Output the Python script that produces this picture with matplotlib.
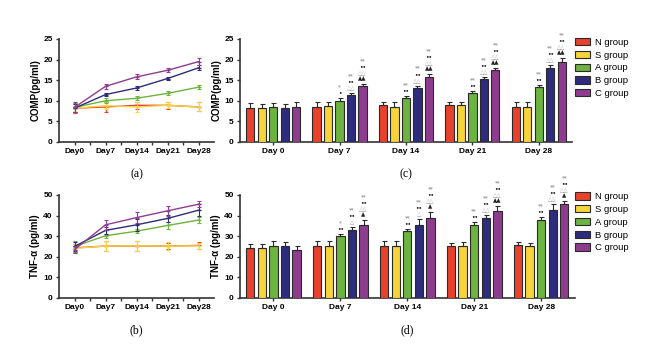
import matplotlib
matplotlib.use("Agg")
import matplotlib.pyplot as plt
import numpy as np
from matplotlib.patches import Patch

plt.rcParams['font.family'] = ['Liberation Sans', 'DejaVu Sans']

days_line = ["Day0", "Day7", "Day14", "Day21", "Day28"]
days_bar = ["Day 0", "Day 7", "Day 14", "Day 21", "Day 28"]
groups = ["N group", "S group", "A group", "B group", "C group"]
colors = ["#e8412c", "#f7d43a", "#6cb33f", "#2e2c7c", "#8e3d8e"]

# COMP (pg/ml)
comp_N = [8.2, 8.5, 8.9, 8.9, 8.5]
comp_S = [8.2, 8.8, 8.5, 8.9, 8.5]
comp_A = [8.4, 10.0, 10.6, 11.8, 13.3]
comp_B = [8.2, 11.5, 13.1, 15.4, 18.0]
comp_C = [8.4, 13.5, 15.8, 17.4, 19.5]
comp_err_N = [1.2, 1.3, 0.9, 0.8, 1.1]
comp_err_S = [1.0, 0.8, 1.3, 0.7, 1.1]
comp_err_A = [1.1, 0.6, 0.5, 0.5, 0.5]
comp_err_B = [1.0, 0.4, 0.6, 0.4, 0.6]
comp_err_C = [1.2, 0.6, 0.6, 0.5, 0.9]

# TNF-alpha (pg/ml)
tnf_N = [24.3, 25.2, 25.2, 25.2, 25.5]
tnf_S = [24.1, 25.2, 25.3, 25.2, 25.3]
tnf_A = [25.0, 30.2, 32.4, 35.2, 37.8]
tnf_B = [25.0, 32.8, 35.5, 38.6, 42.6]
tnf_C = [23.5, 35.5, 39.0, 42.3, 45.5]
tnf_err_N = [1.8, 2.5, 2.3, 1.3, 1.6]
tnf_err_S = [2.2, 2.3, 2.3, 1.8, 1.3]
tnf_err_A = [2.5, 1.0, 1.0, 1.5, 1.5]
tnf_err_B = [2.2, 1.8, 2.8, 1.6, 2.8]
tnf_err_C = [1.5, 2.3, 2.5, 2.3, 1.5]

# significance marks per group (list per day), top-down lines
comp_marks_A = [[], ["*", "•"], ["**", "••"], ["**", "••"], ["**", "••"]]
comp_marks_B = [[], ["**", "••", "△△"], ["**", "••", "△△"], ["**", "••", "△△"], ["**", "••", "△△"]]
comp_marks_C = [[], ["**", "••", "△△", "▲▲"], ["**", "••", "△△", "▲▲"], ["**", "••", "△△", "▲▲"], ["**", "••", "△△", "▲▲"]]
tnf_marks_A = [[], ["*", "••"], ["**", "••"], ["**", "••"], ["**", "••"]]
tnf_marks_B = [[], ["**", "••", "△"], ["**", "••", "△"], ["**", "••", "△△"], ["**", "••", "△△"]]
tnf_marks_C = [[], ["**", "••", "△△", "▲"], ["**", "••", "△△", "▲"], ["**", "••", "△△", "▲▲"], ["**", "••", "△△", "▲"]]

fig = plt.figure(figsize=(6.6, 3.59), dpi=100)

spine_c = "#333333"

def style_axes(ax):
    for s in ["top", "right"]:
        ax.spines[s].set_visible(False)
    for s in ["left", "bottom"]:
        ax.spines[s].set_color(spine_c)
        ax.spines[s].set_linewidth(1.2)
    ax.tick_params(axis='both', labelsize=6, width=1, length=2.5, color=spine_c, pad=2)
    for lab in ax.get_xticklabels() + ax.get_yticklabels():
        lab.set_fontweight('bold')

def line_panel(rect, series, errs, ymax, ystep, ylabel, letter):
    ax = fig.add_axes(rect)
    x = np.arange(len(days_line))
    for i in range(5):
        ax.errorbar(x, series[i], yerr=errs[i], color=colors[i], lw=1.0,
                    marker='_', ms=3, capsize=1.5, elinewidth=0.8, capthick=0.8, zorder=3 + i)
    ax.set_xlim(-0.5, 4.5)
    ax.set_ylim(0, ymax)
    ax.set_yticks(np.arange(0, ymax + 0.1, ystep))
    ax.set_xticks(x)
    ax.set_xticklabels(days_line)
    ax.set_xticks(np.arange(0.5, 4.0, 1.0), minor=True)
    ax.tick_params(axis='x', which='major', length=0)
    ax.tick_params(axis='x', which='minor', length=2.5, width=1, color=spine_c)
    ax.set_ylabel(ylabel, fontsize=7, fontweight='bold', labelpad=2)
    style_axes(ax)
    ax.text(0.5, -0.26, letter, transform=ax.transAxes, ha='center', va='top',
            fontsize=8.5, family='Liberation Serif')
    return ax

def bar_panel(rect, series, errs, marks, ymax, ystep, ylabel, letter, legend_y):
    ax = fig.add_axes(rect)
    x = np.arange(len(days_bar))
    step = 0.173
    w = 0.125
    for i in range(5):
        xi = x + (i - 2) * step
        ax.bar(xi, series[i], width=w, color=colors[i], edgecolor="#2a2a2a", linewidth=0.8, zorder=3)
        ax.errorbar(xi, series[i], yerr=[np.zeros(5), errs[i]], fmt='none', ecolor="#2a2a2a",
                    elinewidth=0.8, capsize=1.8, capthick=0.8, zorder=4)
    for gi, m in zip([2, 3, 4], marks):
        for d in range(5):
            lines = m[d]
            if not lines:
                continue
            xi = x[d] + (gi - 2) * step
            top = series[gi][d] + errs[gi][d]
            n = len(lines)
            for k, s in enumerate(lines):
                col = "#a0a0a0" if k % 2 == 0 else "#222222"
                off = 2.0 + (n - 1 - k) * 4.4
                ax.annotate(s, (xi, top), xytext=(0, off), textcoords='offset points',
                            ha='center', va='bottom', fontsize=4.0, color=col,
                            family=['DejaVu Sans'], fontweight='bold')
    ax.set_xlim(-0.5, 4.5)
    ax.set_ylim(0, ymax)
    ax.set_yticks(np.arange(0, ymax + 0.1, ystep))
    ax.set_xticks(x)
    ax.set_xticklabels(days_bar)
    ax.set_ylabel(ylabel, fontsize=7, fontweight='bold', labelpad=2)
    style_axes(ax)
    ax.text(0.5, -0.26, letter, transform=ax.transAxes, ha='center', va='top',
            fontsize=8.5, family='Liberation Serif')
    handles = [Patch(facecolor=colors[i], edgecolor="#2a2a2a", linewidth=0.8, label=groups[i]) for i in range(5)]
    fig.legend(handles=handles, loc='upper left', bbox_to_anchor=(0.865, legend_y), frameon=False,
               fontsize=6.8, handlelength=1.6, handleheight=0.8, handletextpad=0.5,
               labelspacing=0.4, borderaxespad=0)
    return ax

line_panel([0.0894, 0.6045, 0.235, 0.287],
           [comp_N, comp_S, comp_A, comp_B, comp_C],
           [comp_err_N, comp_err_S, comp_err_A, comp_err_B, comp_err_C],
           25, 5, "COMP(pg/ml)", "(a)")
line_panel([0.0894, 0.170, 0.235, 0.287],
           [tnf_N, tnf_S, tnf_A, tnf_B, tnf_C],
           [tnf_err_N, tnf_err_S, tnf_err_A, tnf_err_B, tnf_err_C],
           50, 10, "TNF-α (pg/ml)", "(b)")
bar_panel([0.3636, 0.6045, 0.503, 0.287],
          [comp_N, comp_S, comp_A, comp_B, comp_C],
          [comp_err_N, comp_err_S, comp_err_A, comp_err_B, comp_err_C],
          [comp_marks_A, comp_marks_B, comp_marks_C],
          25, 5, "COMP(pg/ml)", "(c)", 0.905)
bar_panel([0.3636, 0.170, 0.507, 0.287],
          [tnf_N, tnf_S, tnf_A, tnf_B, tnf_C],
          [tnf_err_N, tnf_err_S, tnf_err_A, tnf_err_B, tnf_err_C],
          [tnf_marks_A, tnf_marks_B, tnf_marks_C],
          50, 10, "TNF-α (pg/ml)", "(d)", 0.475)

fig.savefig("out.png", dpi=100, facecolor="white")
